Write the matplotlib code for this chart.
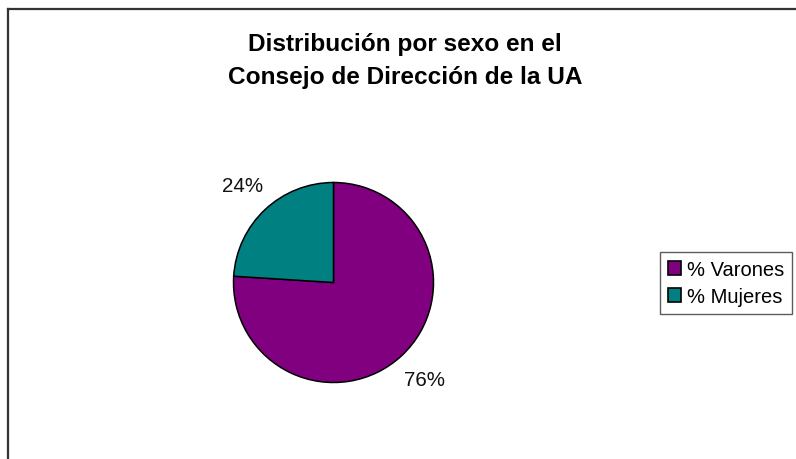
import matplotlib
matplotlib.use("Agg")
import matplotlib.pyplot as plt
from matplotlib.lines import Line2D

plt.rcParams['font.family'] = ['Liberation Sans', 'DejaVu Sans']

labels = ['% Varones', '% Mujeres']
values = [76, 24]
colors = ['#800080', '#008080']
title = 'Distribución por sexo en el\nConsejo de Dirección de la UA'

W, H = 796, 460
fig = plt.figure(figsize=(W / 100, H / 100), dpi=100)

# frame lines (left and top)
fig.add_artist(Line2D([8 / W, 8 / W], [0, 1 - 10 / H], transform=fig.transFigure,
                      color='#333333', lw=1.6))
fig.add_artist(Line2D([8 / W, 1], [1 - 10 / H, 1 - 10 / H], transform=fig.transFigure,
                      color='#333333', lw=1.6))

cx, cy, r = 333.5, 283.5, 100
ax = fig.add_axes([(cx - r) / W, (H - cy - r) / H, 2 * r / W, 2 * r / H])
wedges, texts, autotexts = ax.pie(values, colors=colors, startangle=90, counterclock=False,
                                  autopct='%1.0f%%', pctdistance=1.33,
                                  wedgeprops=dict(edgecolor='black', linewidth=1.1),
                                  textprops=dict(fontsize=14.8, color='#111111'))
ax.set_xlim(-1, 1)
ax.set_ylim(-1, 1)
ax.set_aspect('equal')
ax.axis('off')

fig.text(405 / W, 1 - 61 / H, title, ha='center', va='center', fontsize=17.6,
         fontweight='bold', linespacing=1.55)

leg = fig.legend(wedges, labels, loc='center', bbox_to_anchor=(726 / W, 1 - 284 / H),
                 fontsize=14.5, frameon=True, fancybox=False, shadow=False,
                 handlelength=0.65, handleheight=0.65, handletextpad=0.3,
                 borderpad=0.4, labelspacing=0.4, borderaxespad=0)
leg.get_frame().set_edgecolor('#333333')
leg.get_frame().set_linewidth(1.0)
for h in leg.legend_handles:
    h.set_edgecolor('black')
    h.set_linewidth(1.2)

fig.savefig('out.png', dpi=100)
